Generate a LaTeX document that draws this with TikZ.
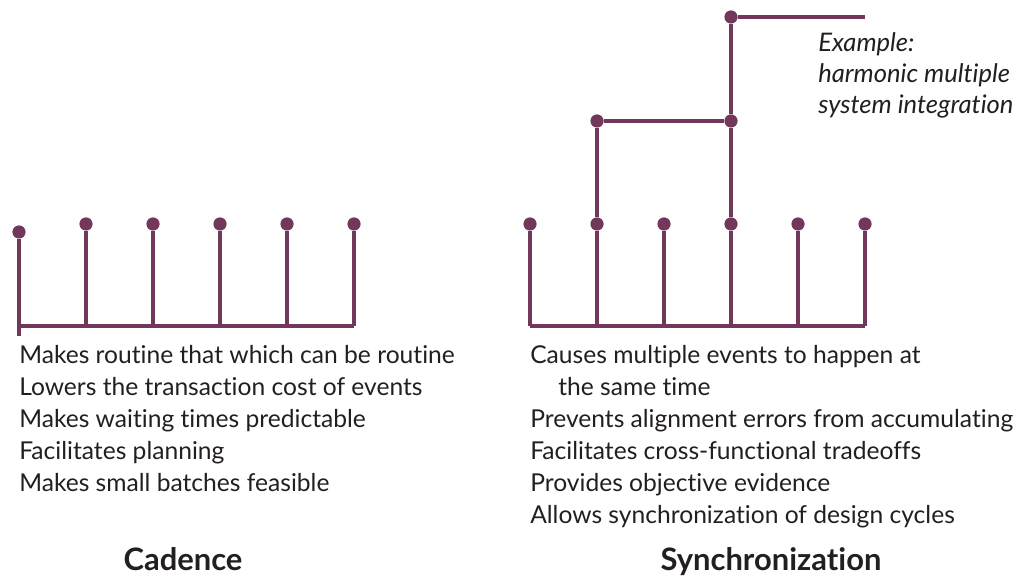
\documentclass[tikz,border=0pt]{standalone}
\usepackage{fontspec}
\setmainfont{Lato}[Ligatures=NoCommon]
\usetikzlibrary{positioning,calc}
\definecolor{plum}{RGB}{114,56,92}
\definecolor{inkgrey}{RGB}{35,31,32}

\begin{document}
\begin{tikzpicture}[x=0.025cm,y=-0.025cm,
    dot/.style={circle,fill=plum,inner sep=0pt,minimum size=0.33cm},
    stem/.style={draw=plum,line width=2.3pt},
    listline/.style={anchor=base west,inner sep=0pt,text=inkgrey,font=\fontsize{17.5}{21}\selectfont},
    notetext/.style={anchor=base west,inner sep=0pt,text=inkgrey,font=\fontsize{18.2}{21}\selectfont\itshape},
    title/.style={anchor=base,inner sep=0pt,text=inkgrey,font=\fontsize{22}{26}\selectfont\bfseries}
]
\useasboundingbox (0,0) rectangle (1015,576);

% Cadence: regular ticks
\node[dot] (c0) at (19,232) {};
\foreach \i in {1,...,5}
    \node[dot] (c\i) at (19+67*\i,224) {};
\foreach \i in {0,...,5}
    \coordinate (cb\i) at (19+67*\i,326);
\coordinate (cend) at (19,336);
\draw[stem] (c0) -- (cend);
\foreach \i in {1,...,5}
    \draw[stem] (c\i) -- (cb\i);
\draw[stem] (cb0) -- (cb5);

% Synchronization: aligned ticks, harmonic levels
\foreach \i in {0,...,5}
    \node[dot] (s\i) at (530+67*\i,224) {};
\foreach \i in {0,...,5}
    \coordinate (sb\i) at (530+67*\i,326);
\node[dot] (u1) at (597,121) {};
\node[dot] (u3) at (731,121) {};
\node[dot] (top) at (731,17) {};
\coordinate (tend) at (865,17);
\foreach \i in {0,...,5}
    \draw[stem] (s\i) -- (sb\i);
\draw[stem] (sb0) -- (sb5);
\draw[stem] (s1) -- (u1);
\draw[stem] (u1) -- (u3);
\draw[stem] (s3) -- (u3);
\draw[stem] (u3) -- (top);
\draw[stem] (top) -- (tend);

\node[notetext] (ex1) at (818,52) {Example:};
\node[notetext] (ex2) at (818,83) {harmonic multiple};
\node[notetext] (ex3) at (818,114) {system integration};

% lists
\node[listline] (l1) at (19,364) {Makes routine that which can be routine};
\node[listline] (l2) at (19,396) {Lowers the transaction cost of events};
\node[listline] (l3) at (19,428) {Makes waiting times predictable};
\node[listline] (l4) at (19,460) {Facilitates planning};
\node[listline] (l5) at (19,492) {Makes small batches feasible};

\node[listline] (r1) at (530,364) {Causes multiple events to happen at};
\node[listline] (r2) at (558,396) {the same time};
\node[listline] (r3) at (530,428) {Prevents alignment errors from accumulating};
\node[listline] (r4) at (530,460) {Facilitates cross-functional tradeoffs};
\node[listline] (r5) at (530,492) {Provides objective evidence};
\node[listline] (r6) at (530,524) {Allows synchronization of design cycles};

\node[title] (cad) at (183,571) {Cadence};
\node[title] (syn) at (771,571) {Synchronization};
\end{tikzpicture}
\end{document}
